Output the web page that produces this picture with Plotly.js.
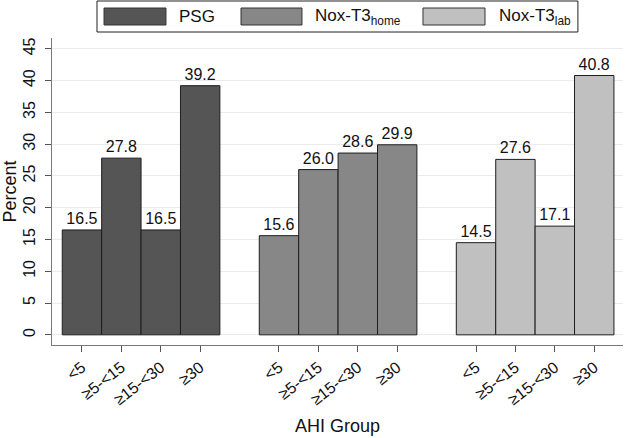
<!DOCTYPE html>
<html>
<head>
<meta charset="utf-8">
<script src="https://cdn.plot.ly/plotly-3.0.1.min.js"></script>
<style>html,body{margin:0;padding:0;background:#fff;}#chart{width:625px;height:438px;}</style>
</head>
<body>
<div id="chart"></div>
<script>
var categories = ['<5', '≥5-<15', '≥15-<30', '≥30'];
var seriesNames = ['PSG', 'Nox-T3<sub>home</sub>', 'Nox-T3<sub>lab</sub>'];
var psgValues = [16.5, 27.8, 16.5, 39.2];
var homeValues = [15.6, 26.0, 28.6, 29.9];
var labValues = [14.5, 27.6, 17.1, 40.8];
var yTicks = [0, 5, 10, 15, 20, 25, 30, 35, 40, 45];

var allSeries = [psgValues, homeValues, labValues];
var colors = ['#555555', '#878787', '#c0c0c0'];
var groupGap = 5;

var traces = [];
var tickvals = [], ticktext = [];
allSeries.forEach(function (vals, g) {
  var xs = categories.map(function (c, i) { return g * groupGap + i; });
  xs.forEach(function (x, i) { tickvals.push(x); ticktext.push(categories[i]); });
  traces.push({
    type: 'bar',
    name: seriesNames[g],
    x: xs,
    y: vals,
    width: 1,
    marker: { color: colors[g], line: { color: '#1e1e1e', width: 1 } },
    text: vals.map(function (v) { return v.toFixed(1); }),
    textposition: 'outside',
    textfont: { size: 16, color: '#111' },
    cliponaxis: false,
    showlegend: false,
    hoverinfo: 'x+y'
  });
});

// custom legend (box, swatches, labels) in paper coordinates
var shapes = [{
  type: 'rect', xref: 'paper', yref: 'paper',
  x0: 0.0788, x1: 0.921, y0: 1.0195, y1: 1.1205,
  line: { color: '#222', width: 1 }, fillcolor: 'rgba(0,0,0,0)'
}];
var swX = [[0.0911, 0.1996], [0.331, 0.4378], [0.6497, 0.7583]];
var txX = [0.2189, 0.4571, 0.7793];
var annotations = [];
seriesNames.forEach(function (n, g) {
  shapes.push({
    type: 'rect', xref: 'paper', yref: 'paper',
    x0: swX[g][0], x1: swX[g][1], y0: 1.0423, y1: 1.0977,
    line: { color: '#333', width: 1 }, fillcolor: colors[g]
  });
  annotations.push({
    xref: 'paper', yref: 'paper', x: txX[g], y: 1.070,
    xanchor: 'left', yanchor: 'middle', showarrow: false,
    text: n, font: { size: 17, color: '#111' }
  });
});

var layout = {
  width: 625, height: 438,
  margin: { l: 52, r: 2, t: 38, b: 93 },
  paper_bgcolor: '#fff', plot_bgcolor: '#fff',
  font: { family: 'Liberation Sans, Arial, sans-serif', color: '#111', size: 16 },
  bargap: 0,
  xaxis: {
    range: [-0.76, 13.73],
    tickvals: tickvals, ticktext: ticktext,
    tickangle: -38,
    ticks: 'outside', ticklen: 6, tickcolor: '#555',
    showline: true, linecolor: '#777', linewidth: 1,
    showgrid: false, zeroline: false,
    tickfont: { size: 16 },
    title: { text: 'AHI Group', font: { size: 18 }, standoff: 12 }
  },
  yaxis: {
    range: [-1.6, 46.7],
    tickvals: yTicks,
    tickangle: -90,
    ticks: 'outside', ticklen: 6, tickcolor: '#555',
    showline: true, linecolor: '#777', linewidth: 1,
    showgrid: true, gridcolor: '#ebebeb', gridwidth: 1,
    zeroline: false,
    tickfont: { size: 16 },
    ticklabelstandoff: 4,
    title: { text: 'Percent', font: { size: 18 }, standoff: 4 }
  },
  shapes: shapes,
  annotations: annotations,
  showlegend: false
};

Plotly.newPlot('chart', traces, layout, { displayModeBar: false, staticPlot: true });
</script>
</body>
</html>
